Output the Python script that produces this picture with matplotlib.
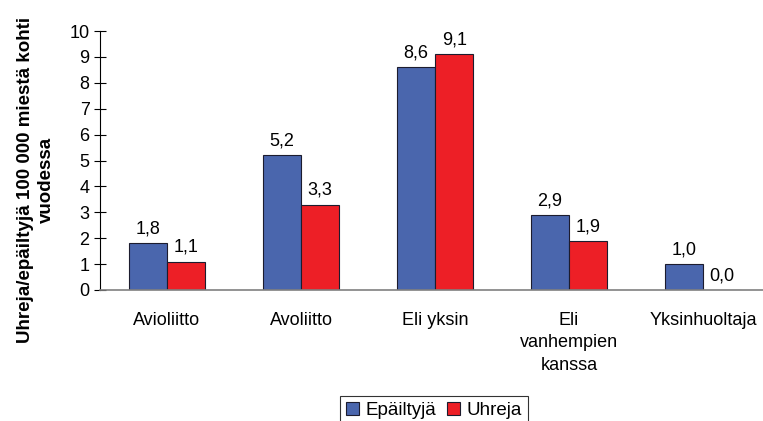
import numpy as np
import matplotlib.pyplot as plt

plt.rcParams["font.family"] = ["Liberation Sans", "DejaVu Sans"]

# data
categories = ["Avioliitto", "Avoliitto", "Eli yksin", "Eli\nvanhempien\nkanssa", "Yksinhuoltaja"]
epailtyja = [1.8, 5.2, 8.6, 2.9, 1.0]
uhreja = [1.1, 3.3, 9.1, 1.9, 0.0]
series_names = ["Epäiltyjä", "Uhreja"]
yticks = list(range(0, 11))

blue = "#4a66ad"
red = "#ed1f26"
fs = 13

fig = plt.figure(figsize=(7.63, 4.21), dpi=100)
# axes runs past the right edge like the original
ax = fig.add_axes([100/763, 1 - 290/421, 670/763, 259/421])

x = np.arange(len(categories))
w = 0.287
b1 = ax.bar(x - w/2, epailtyja, w, color=blue, edgecolor="#1c1c2e", linewidth=0.8, label=series_names[0])
b2 = ax.bar(x + w/2, uhreja, w, color=red, edgecolor="#1c1c2e", linewidth=0.8, label=series_names[1])

for bars, vals in ((b1, epailtyja), (b2, uhreja)):
    for r, v in zip(bars, vals):
        ax.annotate(f"{v:.1f}".replace(".", ","),
                    xy=(r.get_x() + r.get_width()/2, v),
                    xytext=(0, 4), textcoords="offset points",
                    ha="center", va="bottom", fontsize=fs)

ax.set_xlim(-0.5, len(categories) - 0.5)
ax.set_ylim(0, 10)
ax.set_yticks(yticks)
ax.set_yticklabels([str(t) for t in yticks], fontsize=fs)
ax.set_xticks(x)
ax.set_xticklabels(categories, fontsize=fs, linespacing=1.4)
ax.tick_params(axis="x", length=0, pad=16)
ax.tick_params(axis="y", direction="inout", length=9, width=0.8, pad=3)

for s in ("top", "right"):
    ax.spines[s].set_visible(False)
ax.spines["left"].set_color("black")
ax.spines["left"].set_linewidth(0.8)
ax.spines["bottom"].set_color("#808080")
ax.spines["bottom"].set_linewidth(1.2)

ax.set_ylabel("Uhreja/epäiltyjä 100 000 miestä kohti\nvuodessa",
              fontsize=13.5, fontweight="bold", linespacing=1.25)
ax.yaxis.set_label_coords(-0.068, 0.425)

leg = fig.legend(loc="upper left", bbox_to_anchor=(340/763, 1 - 396/421),
                 ncol=2, frameon=True, fancybox=False, fontsize=13.5,
                 handlelength=0.7, handleheight=0.7, handletextpad=0.35,
                 columnspacing=0.6, borderpad=0.3, borderaxespad=0)
leg.get_frame().set_edgecolor("black")
leg.get_frame().set_linewidth(0.8)

plt.savefig("out.png", dpi=100)
